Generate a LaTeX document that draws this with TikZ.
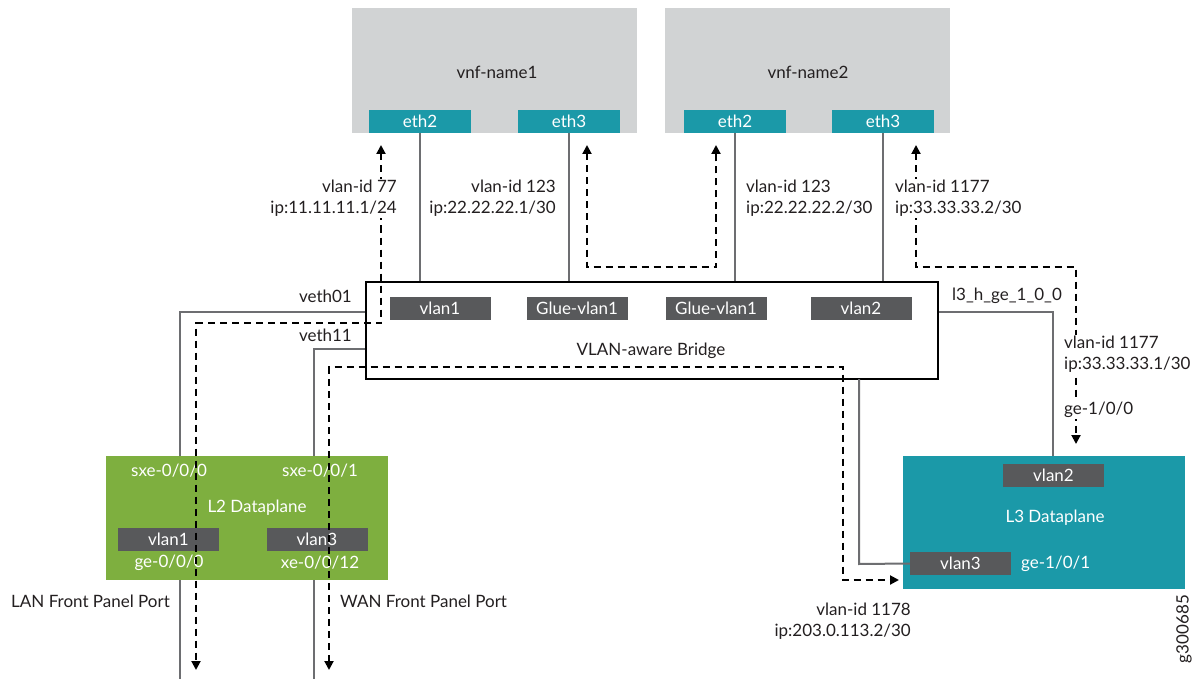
\documentclass[tikz,border=0pt]{standalone}
\usepackage{fontspec}
\setmainfont{Lato}
\usetikzlibrary{arrows.meta}
\definecolor{boxgray}{HTML}{D1D3D4}
\definecolor{tealc}{HTML}{1B99A8}
\definecolor{greenc}{HTML}{7EAF3F}
\definecolor{dgray}{HTML}{58595B}
\definecolor{lgray}{HTML}{6D6E71}
\definecolor{txt}{HTML}{231F20}
\tikzset{
  every node/.style={font=\fontsize{17}{21}\selectfont, text=txt},
  vnfbox/.style={fill=boxgray, minimum width=285pt, minimum height=125pt, inner sep=0pt},
  port/.style={fill=tealc, text=white, minimum width=102pt, minimum height=23pt, inner sep=0pt},
  vl/.style={fill=dgray, text=white, minimum width=101pt, minimum height=23pt, inner sep=0pt},
  link/.style={draw=lgray, line width=2pt},
  flow/.style={draw=black, line width=2pt, dash pattern=on 7pt off 5pt},
  tipb/.style={{Triangle[width=9pt,length=9pt]}-{Triangle[width=9pt,length=9pt]}},
  lab/.style={fill=white, inner sep=1pt},
  wlab/.style={text=white, inner sep=0pt}
}
\begin{document}
\begin{tikzpicture}[x=1pt,y=-1pt]
\useasboundingbox (0,0) rectangle (1199,679);
% VNF boxes
\node[vnfbox] (vnf1) at (494.5,70.5) {};
\node at (497,72) (vnf1t) {vnf-name1};
\node[vnfbox] (vnf2) at (807.5,70.5) {};
\node at (808,72) (vnf2t) {vnf-name2};
\node[port] (v1e2) at (420,121.5) {eth2};
\node[port] (v1e3) at (569,121.5) {eth3};
\node[port] (v2e2) at (735,121.5) {eth2};
\node[port] (v2e3) at (883,121.5) {eth3};
% bridge
\node[draw=black, line width=2pt, fill=white, minimum width=572pt, minimum height=97pt, inner sep=0pt] (br) at (652,330.5) {};
\node (brt) at (651,351) {VLAN-aware Bridge};
\node[vl] (bv1) at (440,308.5) {vlan1};
\node[vl] (bg1) at (577,308.5) {Glue-vlan1};
\node[vl] (bg2) at (716,308.5) {Glue-vlan1};
\node[vl] (bv2) at (861,308.5) {vlan2};
% links vnf - bridge
\draw[link] (v1e2.south) -- (v1e2.south |- br.north);
\draw[link] (v1e3.south) -- (v1e3.south |- br.north);
\draw[link] (v2e2.south) -- (v2e2.south |- br.north);
\draw[link] (v2e3.south) -- (v2e3.south |- br.north);
% coordinates
\coordinate (lanb) at (180,679);
\coordinate (wanb) at (314,679);
\draw[link] (br.west |- 0,312) -- (180,312) -- (lanb);
\draw[link] (br.west |- 0,349) -- (314,349) -- (wanb);
% L2
\node[fill=greenc, minimum width=282pt, minimum height=124pt, inner sep=0pt] (l2) at (247,518) {};
\node[wlab] (sx0) at (169,471) {sxe-0/0/0};
\node[wlab] (sx1) at (320,471) {sxe-0/0/1};
\node[wlab] (l2t) at (257,508) {L2 Dataplane};
\node[vl] (l2v1) at (168.5,539.5) {vlan1};
\node[vl] (l2v3) at (317,539.5) {vlan3};
\node[wlab] (ge0) at (169,563) {ge-0/0/0};
\node[wlab] (xe12) at (320,563) {xe-0/0/12};
% L3
\node[fill=tealc, minimum width=282pt, minimum height=133pt, inner sep=0pt] (l3) at (1044,522.5) {};
\node[vl] (l3v2) at (1053.5,475.5) {vlan2};
\node[wlab] (l3t) at (1055,518) {L3 Dataplane};
\node[vl] (l3v3) at (960.5,563.5) {vlan3};
\node[wlab, anchor=west] (ge101) at (1021,564) {ge-1/0/1};
\draw[link] (br.east |- 0,312) -- (1053,312) -- (1053,456);
\draw[link] (859,379) -- (859,564) -- (l3v3.west);
% flows
\coordinate (f1a) at (381,145);
\coordinate (f1b) at (196,670);
\draw[flow,tipb] (f1a) -- (381,323) -- (196,323) -- (f1b);
\coordinate (f2a) at (587,145);
\coordinate (f2b) at (716,145);
\draw[flow,tipb] (f2a) -- (587,267) -- (716,267) -- (f2b);
\coordinate (f3a) at (916,145);
\coordinate (f3b) at (1076,444);
\draw[flow,tipb] (f3a) -- (916,267) -- (1076,267) -- (f3b);
\coordinate (f4a) at (329,670);
\coordinate (f4b) at (899,580);
\draw[flow,tipb] (f4a) -- (329,367) -- (843,367) -- (843,580) -- (f4b);
% labels
\node[lab, anchor=east, align=right] (t1) at (398,198.5) {vlan-id 77\\ip:11.11.11.1/24};
\node[lab, anchor=east, align=right] (t2) at (557,198.5) {vlan-id 123\\ip:22.22.22.1/30};
\node[lab, anchor=west, align=left] (t3) at (745,198.5) {vlan-id 123\\ip:22.22.22.2/30};
\node[lab, anchor=west, align=left] (t4) at (894,198.5) {vlan-id 1177\\ip:33.33.33.2/30};
\node[lab, anchor=west, align=left] (t5) at (1063,354) {vlan-id 1177\\ip:33.33.33.1/30};
\node[lab, anchor=west] (t6) at (1063,410) {ge-1/0/0};
\node[lab, anchor=east, align=right] (t7) at (912,621.5) {vlan-id 1178\\ip:203.0.113.2/30};
\node[anchor=east, inner sep=1pt] (veth01) at (353,296) {veth01};
\node[anchor=east, inner sep=1pt] (veth11) at (353,335) {veth11};
\node[anchor=west, inner sep=1pt] (l3h) at (951,296) {l3\_h\_ge\_1\_0\_0};
\node[anchor=west, inner sep=1pt] (lan) at (10,601) {LAN Front Panel Port};
\node[anchor=west, inner sep=1pt] (wan) at (339,601) {WAN Front Panel Port};
\node[rotate=90, inner sep=0pt] (gid) at (1184,629) {g300685};
\end{tikzpicture}
\end{document}
